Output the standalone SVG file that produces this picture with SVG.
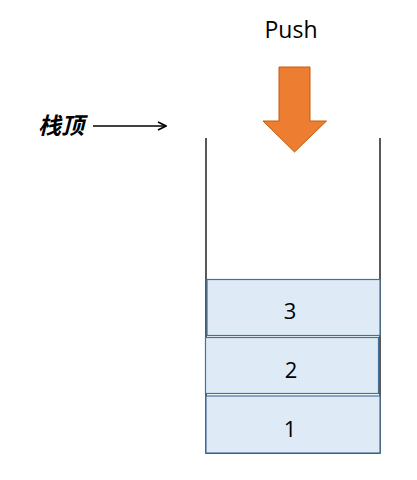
<svg xmlns="http://www.w3.org/2000/svg" width="417" height="480" viewBox="0 0 417 480">
<style>
.box{fill:#DEEBF7;stroke:#41719C;stroke-width:1.2}
.num{font-family:"Open Sans","Liberation Sans",sans-serif;font-size:22px;fill:#000;text-anchor:middle}
.wall{stroke:#000;stroke-width:1.3;fill:none}
</style>
<defs>
<marker id="ah" viewBox="0 0 10 10" refX="9" refY="5" markerWidth="10" markerHeight="10" markerUnits="userSpaceOnUse" orient="auto">
<path d="M1,1 L9,5 L1,9" fill="none" stroke="#000" stroke-width="1.6"/>
</marker>
</defs>
<rect width="417" height="480" fill="#fff"/>
<g id="stack">
<path class="wall" d="M206,138 V453 H380 V138"/>
</g>
<g id="item3"><rect class="box" x="207" y="279.5" width="173" height="56"/><text class="num" x="290" y="319">3</text></g>
<g id="item2"><rect class="box" x="205.5" y="337.5" width="173" height="56"/><text class="num" x="291" y="378">2</text></g>
<g id="item1"><rect class="box" x="206" y="396" width="174" height="57"/><text class="num" x="290" y="437">1</text></g>
<g id="push">
<text x="291" y="38" font-family="'Open Sans','Liberation Sans',sans-serif" font-size="23" text-anchor="middle" fill="#000">Push</text>
<path d="M279,67 H310 V121 H326.5 L294.5,152 L263,121 H279 Z" fill="#ED7D31" stroke="#C55A11" stroke-width="1"/>
</g>
<g id="top-label">
<text x="38" y="134" font-family="'Noto Sans CJK SC',serif" font-size="23" font-style="italic" font-weight="bold" fill="#000">栈顶</text>
</g>
<g id="connectors">
<line x1="93" y1="126" x2="166" y2="126" stroke="#000" stroke-width="1.6" marker-end="url(#ah)"/>
</g>
</svg>
